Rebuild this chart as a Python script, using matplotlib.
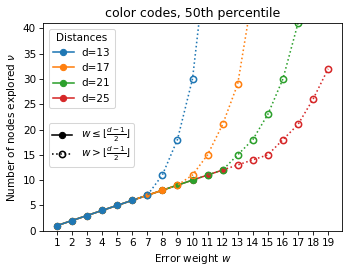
import matplotlib

matplotlib.use("Agg")
import matplotlib.pyplot as plt
from matplotlib.lines import Line2D

plt.rcParams["font.family"] = "DejaVu Sans"

# distances and median node counts per error weight (w starts at 1)
distances = [13, 17, 21, 25]
colors = ["tab:blue", "tab:orange", "tab:green", "tab:red"]
nodes = {
    13: [1, 2, 3, 4, 5, 6, 7, 11, 18, 30, 56],
    17: [1, 2, 3, 4, 5, 6, 7, 8, 9, 11, 15, 21, 29, 47],
    21: [1, 2, 3, 4, 5, 6, 7, 8, 9, 10, 11, 12, 15, 18, 23, 30, 41],
    25: [1, 2, 3, 4, 5, 6, 7, 8, 9, 10, 11, 12, 13, 14, 15, 18, 21, 26, 32],
}
weights = list(range(1, 20))

DPI = 75
fig = plt.figure(figsize=(349 / DPI, 271 / DPI), dpi=DPI)
ax = fig.add_axes([43.3 / 349, 1 - 230.7 / 271, 298.4 / 349, 207.4 / 271])

# solid part (w <= floor((d-1)/2)), drawn in reverse so small d sits on top
for d, c in reversed(list(zip(distances, colors))):
    t = (d - 1) // 2
    ax.plot(weights[:t], nodes[d][:t], "-o", color=c, ms=6, lw=1.5)

# dotted part (w > t), hollow markers, starting from last solid point
for d, c in zip(distances, colors):
    t = (d - 1) // 2
    n = len(nodes[d])
    ax.plot(weights[t - 1:n], nodes[d][t - 1:n], ":o", color=c, ms=6, lw=1.5,
            mfc="none", mew=1.5, markevery=list(range(1, n - t + 1)))

ax.set_xlim(0.1, 19.9)
ax.set_ylim(0, 41)
ax.set_xticks(weights)
ax.set_yticks(range(0, 41, 5))
ax.set_title("color codes, 50th percentile")
ax.set_xlabel("Error weight $w$")
ax.set_ylabel("Number of nodes explored $\\nu$")

handles = [Line2D([], [], color=c, marker="o", ms=6, lw=1.5) for c in colors]
leg1 = ax.legend(handles, [f"d={d}" for d in distances], title="Distances",
                 loc="upper left")
ax.add_artist(leg1)

style_handles = [
    Line2D([], [], color="black", ls="-", marker="o", ms=6, lw=1.5),
    Line2D([], [], color="black", ls=":", marker="o", ms=6, lw=1.5, mfc="none", mew=1.5),
]
style_labels = [
    r"$w \leq \lfloor \frac{d-1}{2} \rfloor$",
    r"$w > \lfloor \frac{d-1}{2} \rfloor$",
]
ax.legend(style_handles, style_labels, loc="upper left", bbox_to_anchor=(0, 0.545),
          labelspacing=0.05, borderpad=0.3)

fig.savefig("out.png", dpi=DPI, facecolor="white")
